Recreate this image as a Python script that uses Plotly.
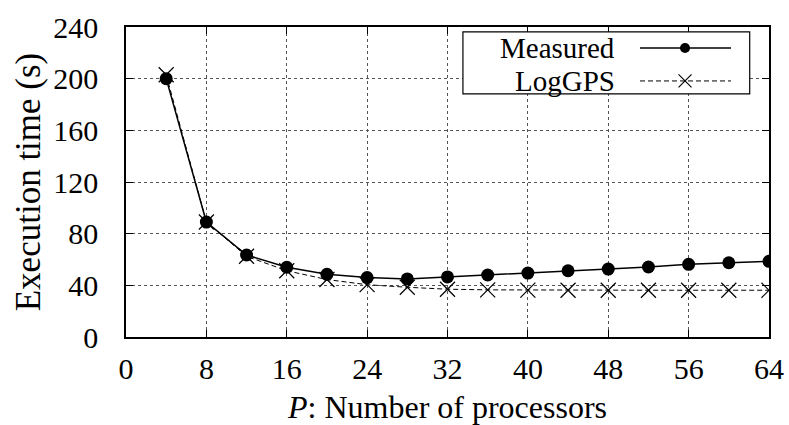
import plotly.graph_objects as go

# Number of processors
procs = [4, 8, 12, 16, 20, 24, 28, 32, 36, 40, 44, 48, 52, 56, 60, 64]
# Measured execution time (s)
measured = [200, 89, 63.5, 54, 48.5, 46, 45, 46.5, 48, 49.5, 51.3, 52.6, 54.2, 56.3, 57.5, 58.6]
# LogGPS predicted execution time (s)
loggps = [203, 89, 62.5, 51.3, 44.5, 40.5, 38.5, 37, 36.5, 36.3, 36.2, 36.2, 36.2, 36.2, 36.2, 36.2]

x_ticks = [0, 8, 16, 24, 32, 40, 48, 56, 64]
y_ticks = [0, 40, 80, 120, 160, 200, 240]

FONT = "Liberation Serif"

fig = go.Figure()
fig.add_trace(go.Scatter(
    x=procs, y=measured, name="Measured", mode="lines+markers",
    line=dict(color="black", width=1.5),
    marker=dict(symbol="circle", size=13, color="black"),
    showlegend=False,
))
fig.add_trace(go.Scatter(
    x=procs, y=loggps, name="LogGPS", mode="lines+markers",
    line=dict(color="black", width=1, dash="5px,3px"),
    marker=dict(symbol="x-thin", size=15, line=dict(color="black", width=1.2)),
    showlegend=False,
))

axis_common = dict(
    showline=True, linecolor="black", linewidth=1.5, mirror="allticks",
    ticks="inside", ticklen=7, tickcolor="black", tickwidth=1,
    showgrid=True, gridcolor="#555", gridwidth=1, griddash="dot",
    zeroline=False,
    tickfont=dict(family=FONT, size=30, color="black"),
)

fig.update_xaxes(
    range=[0, 64], tickvals=x_ticks, ticklabelstandoff=4,
    title=dict(text="<i>P</i>: Number of processors",
               font=dict(family=FONT, size=32, color="black"), standoff=12),
    **axis_common,
)
fig.update_yaxes(
    range=[0, 240], tickvals=y_ticks, ticklabelstandoff=20,
    title=dict(text="Execution time (s)",
               font=dict(family=FONT, size=35, color="black"), standoff=2),
    **axis_common,
)

# Key box drawn in the upper right of the plot area
bx0, bx1, by0, by1 = 0.524, 0.970, 0.784, 0.984
row1, row2 = 0.932, 0.826
lx0, lx1, lmid = 0.7994, 0.9409, 0.8694
shapes = [
    dict(type="rect", xref="paper", yref="paper", x0=bx0, x1=bx1, y0=by0, y1=by1,
         fillcolor="white", line=dict(color="black", width=1.2), layer="above"),
    dict(type="line", xref="paper", yref="paper", x0=lx0, x1=lx1, y0=row1, y1=row1,
         line=dict(color="black", width=1.5), layer="above"),
    dict(type="circle", xref="paper", yref="paper", xsizemode="pixel", ysizemode="pixel",
         xanchor=lmid, yanchor=row1, x0=-5, x1=5, y0=-5, y1=5,
         fillcolor="black", line=dict(color="black", width=0), layer="above"),
    dict(type="line", xref="paper", yref="paper", x0=lx0, x1=lx1, y0=row2, y1=row2,
         line=dict(color="black", width=1, dash="5px,3px"), layer="above"),
    dict(type="line", xref="paper", yref="paper", xsizemode="pixel", ysizemode="pixel",
         xanchor=lmid, yanchor=row2, x0=-6.5, x1=6.5, y0=-6.5, y1=6.5,
         line=dict(color="black", width=1.2), layer="above"),
    dict(type="line", xref="paper", yref="paper", xsizemode="pixel", ysizemode="pixel",
         xanchor=lmid, yanchor=row2, x0=-6.5, x1=6.5, y0=6.5, y1=-6.5,
         line=dict(color="black", width=1.2), layer="above"),
]
key_font = dict(family=FONT, size=29, color="black")
annotations = [
    dict(text="Measured", xref="paper", yref="paper", x=0.7636, y=row1,
         xanchor="right", yanchor="middle", showarrow=False, font=key_font),
    dict(text="LogGPS", xref="paper", yref="paper", x=0.7636, y=row2,
         xanchor="right", yanchor="middle", showarrow=False, font=key_font),
]

fig.update_layout(
    width=789, height=425,
    margin=dict(l=126, r=20, t=27, b=88, autoexpand=False),
    plot_bgcolor="white", paper_bgcolor="white",
    shapes=shapes, annotations=annotations,
    showlegend=False,
)

fig.write_html("out.html")
